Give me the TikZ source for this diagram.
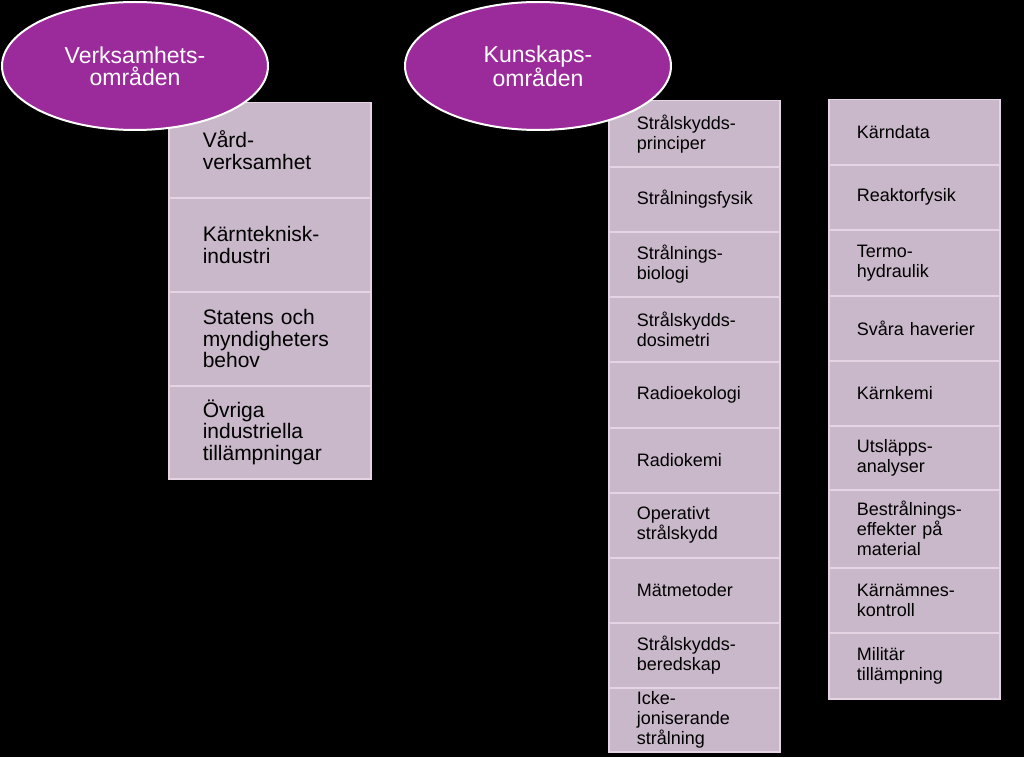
\documentclass[tikz,border=0pt]{standalone}
\usepackage{fontspec}
\setmainfont{Liberation Sans}
\usetikzlibrary{shapes.geometric}
\definecolor{areapurple}{RGB}{155,43,155}
\definecolor{boxfill}{RGB}{201,184,201}
\definecolor{boxline}{RGB}{228,212,228}
\begin{document}
\begin{tikzpicture}[x=1pt, y=-1pt,
	area/.style={ellipse, draw=white, line width=2pt, fill=areapurple, text=white, minimum width=266pt, minimum height=128pt, align=center, font=\fontsize{23}{22}\selectfont},
	vbox/.style={rectangle, draw=boxline, line width=1.5pt, fill=boxfill, anchor=north west, align=left, inner xsep=34pt, inner ysep=0pt, text width=134pt, font=\fontsize{21}{21.5}\selectfont},
	kbox/.style={rectangle, draw=boxline, line width=1.5pt, fill=boxfill, anchor=north west, align=left, inner xsep=28pt, inner ysep=0pt, text width=115pt, font=\fontsize{18}{20}\selectfont}]
	\fill[black] (0,0) rectangle (1024,757);
	\useasboundingbox (0,0) rectangle (1024,757);

	% verksamhetsomraden
	\foreach \ytop/\hgt/\lbl [count=\i] in {102/95/{V\aa rd-\\verksamhet}, 197/94/{K\"arnteknisk-\\industri}, 291/94/{Statens och\\myndigheters\\behov}, 385/93/{\"Ovriga\\industriella\\till\"ampningar}}
		\node[vbox, minimum height=\hgt pt] (v\i) at (168,\ytop) {\lbl};

	% kunskapsomraden
	\foreach \ytop/\hgt/\lbl [count=\i] in {100/66/{Strålskydds-\\principer}, 166/65/{Strålningsfysik}, 231/65/{Strålnings-\\biologi}, 296/65/{Strålskydds-\\dosimetri}, 361/66/{Radioekologi}, 427/65/{Radiokemi}, 492/65/{Operativt\\strålskydd}, 557/65/{Mätmetoder}, 622/65/{Strålskydds-\\beredskap}, 687/64/{Icke-\\joniserande\\strålning}}
		\node[kbox, minimum height=\hgt pt] (k\i) at (608,\ytop) {\lbl};

	\foreach \ytop/\hgt/\lbl [count=\i] in {99/65/{Kärndata}, 164/65/{Reaktorfysik}, 229/66/{Termo-\\hydraulik}, 295/65/{\mbox{Svåra haverier}}, 360/65/{Kärnkemi}, 425/64/{Utsläpps-\\analyser}, 489/78/{Bestrålnings-\\effekter på\\material}, 567/65/{Kärnämnes-\\kontroll}, 632/66/{Militär\\tillämpning}}
		\node[kbox, minimum height=\hgt pt] (r\i) at (828,\ytop) {\lbl};

	\node[area] (verks) at (135,66) {Verksamhets-\\områden};
	\node[area] (kunskap) at (538,66) {Kunskaps-\\områden};
\end{tikzpicture}
\end{document}
